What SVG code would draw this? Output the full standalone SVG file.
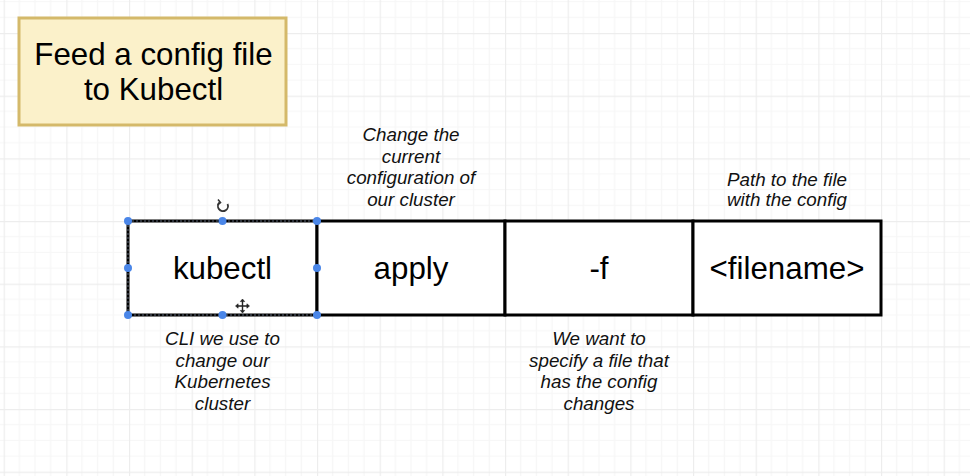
<svg xmlns="http://www.w3.org/2000/svg" width="970" height="476" viewBox="0 0 970 476">
  <style>
    .cell { fill: #ffffff; stroke: #000000; stroke-width: 3; }
    .lbl { font-family: "Liberation Sans", Arial, sans-serif; font-size: 31.3px; fill: #000000; text-anchor: middle; }
    .note { font-family: "Liberation Sans", Arial, sans-serif; font-size: 18.8px; font-style: italic; fill: #111111; text-anchor: middle; }
    .handle { fill: #4a86e8; }
  </style>
  <defs>
    <pattern id="grid" patternUnits="userSpaceOnUse" x="3.67" y="33" width="62.667" height="62.667">
      <path d="M15.667 0V62.667M31.333 0V62.667M47 0V62.667M0 15.667H62.667M0 31.333H62.667M0 47H62.667" stroke="#f6f6f6" stroke-width="1.2" fill="none"/>
      <path d="M0.5 0V62.667M0 0.5H62.667" stroke="#ededed" stroke-width="1.4" fill="none"/>
    </pattern>
  </defs>
  <rect width="970" height="476" fill="#ffffff"/>
  <rect width="970" height="476" fill="url(#grid)"/>

  <g id="title">
    <rect x="19" y="18" width="267" height="107" fill="#fbf1ca" stroke="#d4b96a" stroke-width="3"/>
    <text class="lbl" x="153.5" y="65">Feed a config file</text>
    <text class="lbl" x="153.5" y="100">to Kubectl</text>
  </g>

  <g id="connectors"></g>

  <g id="cell-kubectl">
    <rect class="cell" x="128" y="221" width="189" height="94"/>
    <rect x="128" y="221" width="189" height="94" fill="none" stroke="#5d6778" stroke-width="1" stroke-dasharray="2 2"/>
    <text class="lbl" x="222.5" y="279">kubectl</text>
  </g>
  <g id="cell-apply">
    <rect class="cell" x="317" y="221" width="188" height="94"/>
    <text class="lbl" x="411" y="279">apply</text>
  </g>
  <g id="cell-f">
    <rect class="cell" x="505" y="221" width="188" height="94"/>
    <text class="lbl" x="599" y="279">-f</text>
  </g>
  <g id="cell-filename">
    <rect class="cell" x="693" y="221" width="188" height="94"/>
    <text class="lbl" x="787" y="279">&lt;filename&gt;</text>
  </g>

  <g id="selection">
    <circle class="handle" cx="128" cy="221" r="4"/>
    <circle class="handle" cx="222.5" cy="221" r="4"/>
    <circle class="handle" cx="317" cy="221" r="4"/>
    <circle class="handle" cx="128" cy="268" r="4"/>
    <circle class="handle" cx="317" cy="268" r="4"/>
    <circle class="handle" cx="128" cy="315" r="4"/>
    <circle class="handle" cx="222.5" cy="315" r="4"/>
    <circle class="handle" cx="317" cy="315" r="4"/>
    <g id="rotate-icon" fill="none" stroke="#333333" stroke-width="1.8">
      <path d="M227.5 204 A5 5 0 1 1 219.5 202.5"/>
      <path d="M218 199.5 L220.5 202.5 L217.5 204.8" stroke-width="1.6"/>
    </g>
    <g id="move-icon" fill="#222222" stroke="#222222" stroke-width="1.4">
      <path d="M242.5 300.5V311.5M237 306H248" fill="none"/>
      <path d="M242.5 299l-2.2 2.6h4.4z M242.5 313l-2.2-2.6h4.4z M235.5 306l2.6-2.2v4.4z M249.5 306l-2.6-2.2v4.4z" stroke-width="0.6"/>
    </g>
  </g>

  <g id="note-apply">
    <text class="note" x="411" y="141">Change the</text>
    <text class="note" x="411" y="162.5">current</text>
    <text class="note" x="411" y="184">configuration of</text>
    <text class="note" x="411" y="205.5">our cluster</text>
  </g>
  <g id="note-filename">
    <text class="note" x="787" y="186">Path to the file</text>
    <text class="note" x="787" y="206">with the config</text>
  </g>
  <g id="note-kubectl">
    <text class="note" x="222.5" y="345">CLI we use to</text>
    <text class="note" x="222.5" y="366.7">change our</text>
    <text class="note" x="222.5" y="388.3">Kubernetes</text>
    <text class="note" x="222.5" y="410">cluster</text>
  </g>
  <g id="note-f">
    <text class="note" x="599" y="345">We want to</text>
    <text class="note" x="599" y="366.7">specify a file that</text>
    <text class="note" x="599" y="388.3">has the config</text>
    <text class="note" x="599" y="410">changes</text>
  </g>
</svg>
